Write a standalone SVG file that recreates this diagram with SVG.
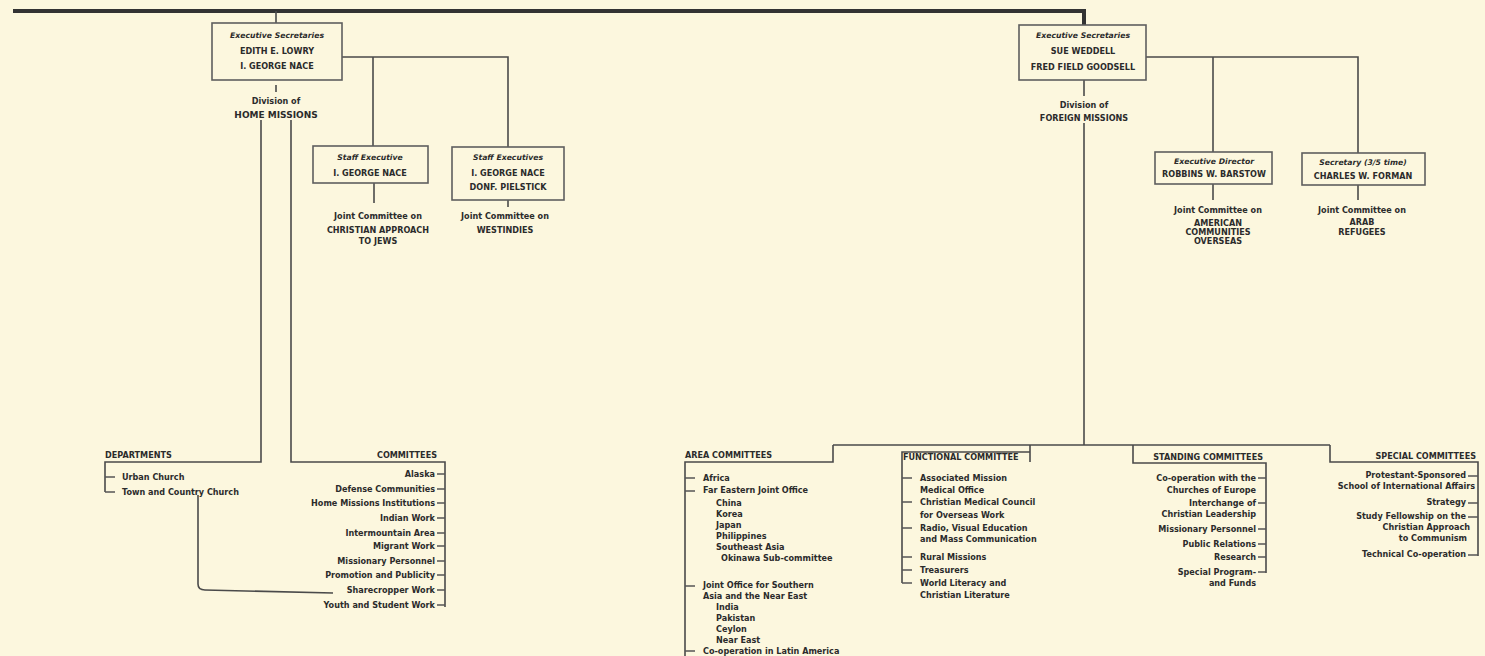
<svg xmlns="http://www.w3.org/2000/svg" width="1485" height="656" viewBox="0 0 1485 656">
<style>
.bg{fill:#fcf7de}
.box{fill:#fcf7de;stroke:#5e5e5e;stroke-width:1.6}
.ln{fill:none;stroke:#4a4a4a;stroke-width:1.6}
.tk{fill:none;stroke:#555;stroke-width:1.4}
.top{fill:none;stroke:#333;stroke-width:4}
text{font-family:"DejaVu Sans","Liberation Sans",sans-serif;font-weight:bold;fill:#2b2b2b;font-size:8.1px}
.c{text-anchor:middle}
.e{text-anchor:end}
.i{font-style:italic;font-size:7.7px}
.h{font-size:9px}
.hd{font-size:8.1px}
</style>
<rect class="bg" x="0" y="0" width="1485" height="656"/>
<g id="connectors">
<path class="top" d="M13,11 H1084 V25"/>
<path class="ln" d="M276,11 V23"/>
<path class="ln" d="M276,85 V92"/>
<path class="ln" d="M342,57 H508 V147"/>
<path class="ln" d="M373,57 V146"/>
<path class="ln" d="M374,183 V203"/>
<path class="ln" d="M508,200 V207"/>
<path class="ln" d="M261,120 V462 H105 V492"/>
<path class="tk" d="M105,477 H115 M105,492 H115"/>
<path class="ln" d="M291,120 V462 H445 V607"/>
<path class="tk" d="M437,474 H445 M437,489 H445 M437,503 H445 M437,518 H445 M437,533 H445 M437,546 H445 M437,561 H445 M437,575 H445 M437,590 H445 M437,605 H445"/>
<path class="ln" d="M198,495 V584 Q198,590 205,590 L333,593"/>
<path class="ln" d="M1084,80 V96"/>
<path class="ln" d="M1084,123 V445"/>
<path class="ln" d="M1146,57 H1358 V153"/>
<path class="ln" d="M1213,57 V152"/>
<path class="ln" d="M1213,184 V200"/>
<path class="ln" d="M1358,185 V200"/>
<path class="ln" d="M833,445 H1330"/>
<path class="ln" d="M833,445 V462 H685 V656"/>
<path class="tk" d="M685,478 H695 M685,491 H695 M685,586 H695 M685,651 H695"/>
<path class="ln" d="M1030,445 V462 M1030,452 H902 V583"/>
<path class="tk" d="M902,478 H912 M902,502 H912 M902,528 H912 M902,557 H912 M902,570 H912 M902,583 H912"/>
<path class="ln" d="M1133,445 V463 H1266 V573"/>
<path class="tk" d="M1258,478 H1266 M1258,503 H1266 M1258,529 H1266 M1258,544 H1266 M1258,557 H1266 M1258,572 H1266"/>
<path class="ln" d="M1330,445 V462 H1478 V556"/>
<path class="tk" d="M1468,476 H1478 M1468,503 H1478 M1468,517 H1478 M1468,555 H1478"/>
</g>
<g id="exec-home">
<rect class="box" x="212" y="23" width="130" height="57"/>
<text class="c i" x="277" y="38">Executive Secretaries</text>
<text class="c" x="277" y="54">EDITH E. LOWRY</text>
<text class="c" x="277" y="69">I. GEORGE NACE</text>
</g>
<g id="div-home">
<text class="c" x="276" y="104">Division of</text>
<text class="c h" x="276" y="118">HOME MISSIONS</text>
</g>
<g id="staff-jews">
<rect class="box" x="313" y="146" width="115" height="37"/>
<text class="c i" x="370" y="160">Staff Executive</text>
<text class="c" x="370" y="176">I. GEORGE NACE</text>
<text class="c" x="378" y="219">Joint Committee on</text>
<text class="c" x="378" y="233">CHRISTIAN APPROACH</text>
<text class="c" x="378" y="244">TO JEWS</text>
</g>
<g id="staff-westindies">
<rect class="box" x="452" y="147" width="112" height="53"/>
<text class="c i" x="508" y="160">Staff Executives</text>
<text class="c" x="508" y="176">I. GEORGE NACE</text>
<text class="c" x="508" y="190">DONF. PIELSTICK</text>
<text class="c" x="505" y="219">Joint Committee on</text>
<text class="c" x="505" y="233">WESTINDIES</text>
</g>
<g id="departments">
<text x="105" y="458" class="hd">DEPARTMENTS</text>
<text x="122" y="480">Urban Church</text>
<text x="122" y="495">Town and Country Church</text>
</g>
<g id="committees-home">
<text class="e hd" x="437" y="458">COMMITTEES</text>
<text class="e" x="435" y="477">Alaska</text>
<text class="e" x="435" y="492">Defense Communities</text>
<text class="e" x="435" y="506">Home Missions Institutions</text>
<text class="e" x="435" y="521">Indian Work</text>
<text class="e" x="435" y="536">Intermountain Area</text>
<text class="e" x="435" y="549">Migrant Work</text>
<text class="e" x="435" y="564">Missionary Personnel</text>
<text class="e" x="435" y="578">Promotion and Publicity</text>
<text class="e" x="435" y="593">Sharecropper Work</text>
<text class="e" x="435" y="608">Youth and Student Work</text>
</g>
<g id="exec-foreign">
<rect class="box" x="1019" y="25" width="127" height="55"/>
<text class="c i" x="1083" y="38">Executive Secretaries</text>
<text class="c" x="1083" y="54">SUE WEDDELL</text>
<text class="c" x="1083" y="70">FRED FIELD GOODSELL</text>
</g>
<g id="div-foreign">
<text class="c" x="1084" y="108">Division of</text>
<text class="c" x="1084" y="121">FOREIGN MISSIONS</text>
</g>
<g id="director-american">
<rect class="box" x="1155" y="152" width="117" height="32"/>
<text class="c i" x="1214" y="164">Executive Director</text>
<text class="c" x="1214" y="177">ROBBINS W. BARSTOW</text>
<text class="c" x="1218" y="213">Joint Committee on</text>
<text class="c" x="1218" y="226">AMERICAN</text>
<text class="c" x="1218" y="235">COMMUNITIES</text>
<text class="c" x="1218" y="244">OVERSEAS</text>
</g>
<g id="secretary-arab">
<rect class="box" x="1302" y="153" width="123" height="32"/>
<text class="c i" x="1363" y="165">Secretary (3/5 time)</text>
<text class="c" x="1363" y="179">CHARLES W. FORMAN</text>
<text class="c" x="1362" y="213">Joint Committee on</text>
<text class="c" x="1362" y="225">ARAB</text>
<text class="c" x="1362" y="235">REFUGEES</text>
</g>
<g id="area-committees">
<text x="685" y="458" class="hd">AREA COMMITTEES</text>
<text x="703" y="481">Africa</text>
<text x="703" y="493">Far Eastern Joint Office</text>
<text x="716" y="506">China</text>
<text x="716" y="517">Korea</text>
<text x="716" y="528">Japan</text>
<text x="716" y="539">Philippines</text>
<text x="716" y="550">Southeast Asia</text>
<text x="721" y="561">Okinawa Sub-committee</text>
<text x="703" y="588">Joint Office for Southern</text>
<text x="703" y="599">Asia and the Near East</text>
<text x="716" y="610">India</text>
<text x="716" y="621">Pakistan</text>
<text x="716" y="632">Ceylon</text>
<text x="716" y="643">Near East</text>
<text x="703" y="654">Co-operation in Latin America</text>
</g>
<g id="functional-committee">
<text x="903" y="460" class="hd">FUNCTIONAL COMMITTEE</text>
<text x="920" y="481">Associated Mission</text>
<text x="920" y="493">Medical Office</text>
<text x="920" y="505">Christian Medical Council</text>
<text x="920" y="518">for Overseas Work</text>
<text x="920" y="531">Radio, Visual Education</text>
<text x="920" y="542">and Mass Communication</text>
<text x="920" y="560">Rural Missions</text>
<text x="920" y="573">Treasurers</text>
<text x="920" y="586">World Literacy and</text>
<text x="920" y="598">Christian Literature</text>
</g>
<g id="standing-committees">
<text class="e hd" x="1263" y="460">STANDING COMMITTEES</text>
<text class="e" x="1256" y="481">Co-operation with the</text>
<text class="e" x="1256" y="493">Churches of Europe</text>
<text class="e" x="1256" y="506">Interchange of</text>
<text class="e" x="1256" y="517">Christian Leadership</text>
<text class="e" x="1256" y="532">Missionary Personnel</text>
<text class="e" x="1256" y="547">Public Relations</text>
<text class="e" x="1256" y="560">Research</text>
<text class="e" x="1256" y="575">Special Program-</text>
<text class="e" x="1256" y="586">and Funds</text>
</g>
<g id="special-committees">
<text class="e hd" x="1476" y="459">SPECIAL COMMITTEES</text>
<text class="e" x="1466" y="478">Protestant-Sponsored</text>
<text class="e" x="1475" y="489">School of International Affairs</text>
<text class="e" x="1466" y="505">Strategy</text>
<text class="e" x="1466" y="519">Study Fellowship on the</text>
<text class="e" x="1470" y="530">Christian Approach</text>
<text class="e" x="1467" y="541">to Communism</text>
<text class="e" x="1466" y="557">Technical Co-operation</text>
</g>
</svg>
